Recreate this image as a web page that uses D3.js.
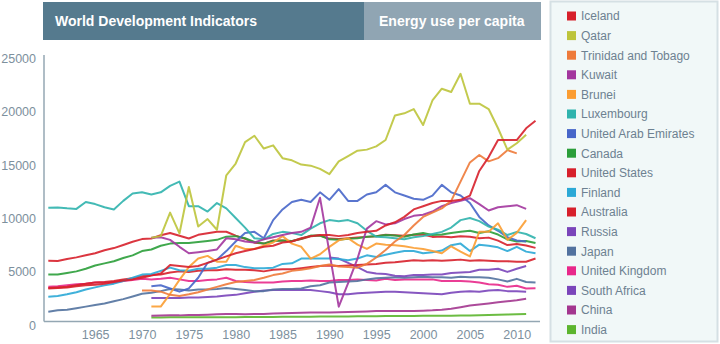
<!DOCTYPE html>
<html>
<head>
<meta charset="utf-8">
<script src="https://cdn.jsdelivr.net/npm/d3@7"></script>
<style>
  body { margin: 0; background: #fff; }
  svg { font-family: "Liberation Sans", Arial, sans-serif; }
</style>
</head>
<body>
<div id="chart"></div>
<script>
// energy use, kg of oil equivalent per capita
const countries = ["Iceland", "Qatar", "Trinidad and Tobago", "Kuwait", "Brunei", "Luxembourg",
  "United Arab Emirates", "Canada", "United States", "Finland", "Australia", "Russia", "Japan",
  "United Kingdom", "South Africa", "China", "India"];
const colors = ["#d7202b", "#bdc43b", "#ee7a3a", "#a3369e", "#fb9d32", "#2fb3ad",
  "#4766c9", "#2b9e3a", "#d7202b", "#2ba9d6", "#d7202b", "#7a45ba", "#52729f",
  "#e8288a", "#7a45ba", "#a3368f", "#5cb52e"];
const startYears = [1960, 1971, 1970, 1971, 1971, 1960, 1971, 1960, 1960, 1960, 1960, 1990, 1960, 1960, 1971, 1971, 1971];
const xTicks = [1965, 1970, 1975, 1980, 1985, 1990, 1995, 2000, 2005, 2010];
const yTicks = [0, 5000, 10000, 15000, 20000, 25000];

const iceland = [3000,3050,3100,3200,3300,3350,3450,3600,3750,3850,
  4000,4200,4400,5200,5100,5000,5100,5400,5700,6000,
  6300,6500,6700,6900,7000,7300,7400,7700,7900,8000,
  8000,7900,8000,8200,8300,8400,8900,9200,9700,10400,
  10700,11000,11200,11200,11300,11700,14000,15300,16900,16900,
  16900,18000,18700];
const qatar = [7750,7900,10100,8150,12500,8800,9500,8500,13600,14700,
  16700,17300,16100,16400,15200,15000,14600,14500,14200,13700,
  14900,15400,15900,16000,16300,16900,19200,19400,19800,18300,
  20600,21700,21400,23100,20300,20300,19800,18000,16000,16600,
  17400];
const trinidad = [2800,2800,2700,2400,2300,2450,2650,2900,3150,3400,
  3600,3700,3800,4000,4250,4400,4650,4750,4900,5100,
  5250,5050,5000,4950,5300,5900,6600,7400,8000,8900,
  9700,10100,10500,11200,13000,14800,15500,14900,15200,15950,
  15650];
const kuwait = [7750,7800,7550,6900,6300,6400,6500,6650,7700,7600,
  7400,7300,7600,7800,8000,8200,8300,8700,11500,6400,
  1300,3500,5800,8600,9300,9000,9100,9500,9800,9900,
  10200,10700,11000,11200,11450,10900,10300,10600,10700,10800,
  10450];
const brunei = [1300,1300,2500,3800,5000,5800,6050,5500,5500,7000,
  6700,6700,7000,7300,7900,7200,6900,5800,6200,6900,
  7500,7700,7100,6700,7200,7100,7050,6950,6800,6700,
  6500,6300,6950,6450,6000,8300,8300,9100,7550,8200,
  9400];
const luxembourg = [10560,10580,10500,10450,11100,10900,10600,10400,11200,11900,
  12000,11800,12000,12600,13000,10700,10700,10200,11000,10500,
  9600,8700,7700,7600,8100,8300,8200,8000,8600,9100,
  9400,9300,9400,9100,8400,7850,7800,7700,7600,7800,
  7900,8100,8300,8700,9400,9600,9300,8800,8500,8000,
  8300,8100,7700];
const uae = [3200,3300,3000,2700,3000,4000,5400,5700,6500,7400,
  8200,8300,7700,9400,10400,11100,11300,11100,12000,11300,
  12300,11200,11200,11800,12000,12700,12000,11700,11400,11300,
  11700,12700,12000,11700,11000,9700,8900,8400,7800,7500,
  7400];
const canada = [4300,4300,4450,4600,4850,5150,5350,5550,5850,6100,
  6500,6650,7000,7200,7250,7250,7350,7450,7550,7850,
  7900,7700,7350,7200,7450,7500,7450,7650,7950,7950,
  7600,7550,7650,7700,7850,7900,8000,7950,7850,8050,
  8200,8000,8050,8200,8300,8400,8200,8350,8050,7600,
  7400,7450,7250];
const unitedStates = [5600,5580,5760,5910,6100,6290,6580,6780,7070,7370,
  7620,7680,7980,8200,7930,7680,8020,8160,8300,8310,
  7940,7650,7290,7200,7500,7480,7430,7630,7890,7960,
  7670,7630,7710,7770,7830,7880,8020,7980,7940,8040,
  8060,7830,7860,7800,7890,7850,7700,7760,7480,7060,
  7160,7030,6800];
const finland = [2230,2300,2450,2650,2900,3100,3300,3450,3700,4000,
  4300,4350,4650,4950,4700,4650,4850,4850,4950,5200,
  5200,5000,4900,4900,4950,5300,5350,5800,5800,5800,
  5800,5750,5650,5800,6100,5950,6150,6350,6500,6500,
  6300,6400,6550,7050,7200,6500,7100,7000,6850,6500,
  6900,6450,6300];
const australia = [3050,3100,3150,3300,3450,3550,3600,3700,3850,3950,
  4150,4250,4300,4500,4600,4550,4650,4700,4700,4800,
  4750,4750,4700,4600,4750,4800,4800,4900,5000,5100,
  5150,5100,5150,5200,5250,5300,5400,5450,5550,5650,
  5600,5650,5600,5650,5700,5600,5650,5600,5550,5550,
  5500,5500,5800];
const russia = [5900,5800,5400,5000,4550,4400,4350,4200,4150,4250,
  4250,4300,4300,4450,4500,4550,4750,4750,4850,4550,
  4850,5100];
const japan = [820,950,1000,1150,1300,1450,1600,1800,2000,2250,
  2500,2600,2750,2950,2900,2800,2900,2900,2950,3050,
  2950,2850,2750,2750,2900,2950,2950,3000,3200,3300,
  3550,3600,3650,3700,3850,3950,4000,4050,4000,4050,
  4100,4050,4050,4000,4100,4050,4050,4000,3850,3650,
  3900,3600,3550];
const unitedKingdom = [3150,3200,3300,3400,3450,3550,3550,3550,3700,3800,
  3900,3850,3900,4000,3850,3700,3700,3800,3850,4000,
  3700,3600,3550,3550,3550,3650,3700,3700,3750,3700,
  3700,3800,3800,3850,3800,3750,3900,3800,3850,3850,
  3850,3850,3700,3700,3700,3650,3550,3400,3350,3150,
  3250,2990,3010];
const southAfrica = [2100,2100,2100,2100,2150,2150,2200,2250,2350,2400,
  2550,2700,2800,2850,2850,2850,2850,2850,2750,2650,
  2450,2450,2550,2600,2650,2700,2700,2650,2600,2550,
  2500,2450,2600,2700,2750,2700,2800,2850,2750,2750,
  2700];
const china = [450,470,480,480,520,520,550,590,600,600,
  590,600,620,650,680,700,720,750,760,760,
  780,800,830,850,880,900,900,880,900,920,
  950,1000,1110,1250,1400,1500,1600,1700,1800,1900,
  2030];
const india = [290,290,295,295,300,305,305,310,315,315,
  320,325,330,335,340,345,355,360,370,375,
  380,385,390,395,405,410,415,420,430,435,
  435,440,445,460,470,490,510,530,560,580,
  614];

const seriesValues = [iceland, qatar, trinidad, kuwait, brunei, luxembourg, uae, canada,
  unitedStates, finland, australia, russia, japan, unitedKingdom, southAfrica, china, india];

const width = 720;
const height = 344;

const svg = d3.select("#chart")
  .append("svg")
  .attr("width", width)
  .attr("height", height);

const x = d3.scaleLinear().domain([1960, 2012]).range([48.3, 535.5]);
const y = d3.scaleLinear().domain([0, 25000]).range([320.5, 53.5]);

// header bars
svg.append("rect").attr("x", 43).attr("y", 2).attr("width", 321).attr("height", 38).attr("fill", "#557a8e");
svg.append("rect").attr("x", 364).attr("y", 2).attr("width", 177).attr("height", 38).attr("fill", "#90a5b3");
svg.append("text").attr("x", 55).attr("y", 25.5).attr("fill", "#fff")
  .attr("font-size", "14px").attr("font-weight", "bold").text("World Development Indicators");
svg.append("text").attr("x", 379).attr("y", 25.5).attr("fill", "#fff")
  .attr("font-size", "14px").attr("font-weight", "bold").text("Energy use per capita");

// axes
const xAxis = svg.append("g")
  .attr("transform", "translate(0,327)")
  .call(d3.axisBottom(x).tickValues(xTicks).tickSize(0).tickPadding(3).tickFormat(d3.format("d")));
const yAxis = svg.append("g")
  .attr("transform", "translate(44,0)")
  .call(d3.axisLeft(y).tickValues(yTicks).tickSize(0).tickPadding(8).tickFormat(d3.format("d")));
[xAxis, yAxis].forEach(function (g) {
  g.select(".domain").remove();
  g.selectAll("text").attr("fill", "#7d909d").attr("font-size", "12.5px")
    .attr("font-family", "'Liberation Sans', Arial, sans-serif");
});
yAxis.selectAll("text").attr("dy", "0.71em");

svg.append("line").attr("x1", 44).attr("x2", 44).attr("y1", 55).attr("y2", 321.5)
  .attr("stroke", "#94a7b3").attr("stroke-width", 1.5);
svg.append("line").attr("x1", 44).attr("x2", 540).attr("y1", 321.5).attr("y2", 321.5)
  .attr("stroke", "#94a7b3").attr("stroke-width", 1.5);

// lines
const line = d3.line()
  .x(function (d) { return x(d.year); })
  .y(function (d) { return y(d.value); });

const series = countries.map(function (name, i) {
  return {
    name: name,
    color: colors[i],
    points: seriesValues[i].map(function (v, j) { return { year: startYears[i] + j, value: v }; })
  };
});

svg.append("g")
  .selectAll("path")
  .data(series.slice().reverse())
  .join("path")
  .attr("d", function (d) { return line(d.points); })
  .attr("fill", "none")
  .attr("stroke", function (d) { return d.color; })
  .attr("stroke-width", 2)
  .attr("stroke-opacity", 0.9)
  .attr("stroke-linejoin", "round");

// legend
svg.append("rect").attr("x", 550.5).attr("y", 1.5).attr("width", 167).attr("height", 340)
  .attr("fill", "#f1f8f8").attr("stroke", "#d5e0e4").attr("stroke-width", 2);

const legend = svg.append("g")
  .selectAll("g")
  .data(series)
  .join("g")
  .attr("transform", function (d, i) { return "translate(0," + (16 + i * 19.6) + ")"; });

legend.append("rect")
  .attr("x", 567).attr("y", -4.5).attr("width", 9).attr("height", 9)
  .attr("fill", function (d) { return d.color; });

legend.append("text")
  .attr("x", 581).attr("y", 4.3)
  .attr("font-size", "12px")
  .attr("fill", "#6d8191")
  .text(function (d) { return d.name; });
</script>
</body>
</html>
